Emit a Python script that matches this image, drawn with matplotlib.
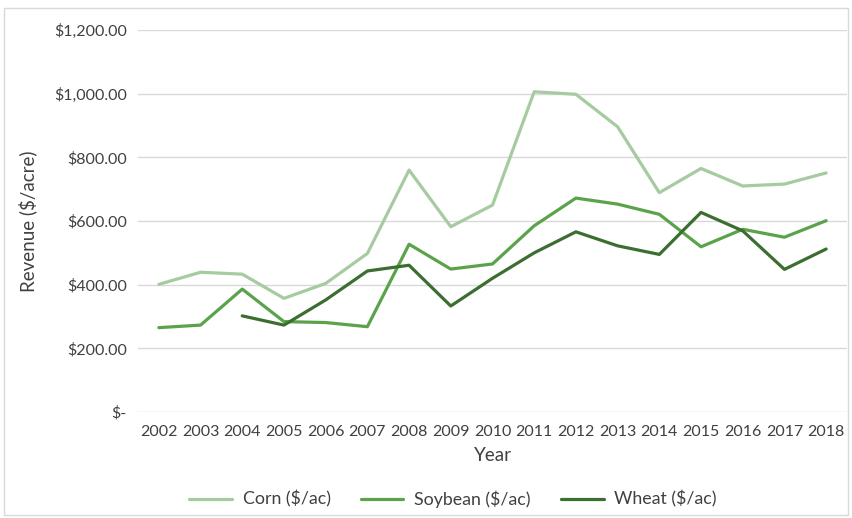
import matplotlib.pyplot as plt
from matplotlib.patches import Rectangle
from matplotlib.ticker import FuncFormatter

plt.rcParams['font.family'] = ['Lato', 'DejaVu Sans']

years = list(range(2002, 2019))
corn = [401, 439, 433, 357, 404, 498, 760, 582, 650, 1006, 998, 896, 689, 765, 710, 716, 751]
soybean = [265, 273, 386, 284, 281, 268, 527, 449, 465, 585, 672, 653, 621, 519, 574, 549, 601]
wheat_years = list(range(2004, 2019))
wheat = [302, 273, 352, 443, 461, 333, 420, 500, 566, 522, 495, 627, 569, 448, 512]

corn_color = "#A7CBA1"
soy_color = "#5BA34B"
wheat_color = "#3B6E30"
grid_color = "#D9D9D9"
text_color = "#404040"

fig = plt.figure(figsize=(8.52, 5.18), dpi=100)
ax = fig.add_axes([138 / 852, 1 - 412 / 518, (847 - 138) / 852, (412 - 30) / 518])

ax.plot(years, corn, color=corn_color, linewidth=2.3, label="Corn ($/ac)", solid_capstyle='round')
ax.plot(years, soybean, color=soy_color, linewidth=2.3, label="Soybean ($/ac)", solid_capstyle='round')
ax.plot(wheat_years, wheat, color=wheat_color, linewidth=2.3, label="Wheat ($/ac)", solid_capstyle='round')

ax.set_xlim(2001.5, 2018.5)
ax.set_ylim(0, 1200)
ax.set_xticks(years)
ax.set_yticks(range(0, 1201, 200))


def money(v, pos):
    if v == 0:
        return "$-"
    return "${:,.2f}".format(v)


ax.yaxis.set_major_formatter(FuncFormatter(money))
ax.grid(axis='y', color=grid_color, linewidth=1)
ax.set_axisbelow(True)
for s in ax.spines.values():
    s.set_visible(False)
ax.tick_params(axis='both', length=0, labelsize=11.5, colors=text_color)
ax.tick_params(axis='y', pad=8)
ax.tick_params(axis='x', pad=9)

ax.set_xlabel("Year", fontsize=13.5, color=text_color, labelpad=6)
ax.set_ylabel("Revenue ($/acre)", fontsize=13.5, color=text_color, labelpad=12)

ax.legend(loc='center', bbox_to_anchor=(453 / 852, 1 - 499 / 518), bbox_transform=fig.transFigure,
          ncol=3, frameon=False, fontsize=12.8, handlelength=2.4, handletextpad=0.6,
          columnspacing=1.7, labelcolor=text_color)

fig.patches.append(Rectangle((4 / 852, 3 / 518), 844 / 852, 507 / 518, transform=fig.transFigure,
                             fill=False, edgecolor=grid_color, linewidth=1))

fig.savefig("out.png", dpi=100)
